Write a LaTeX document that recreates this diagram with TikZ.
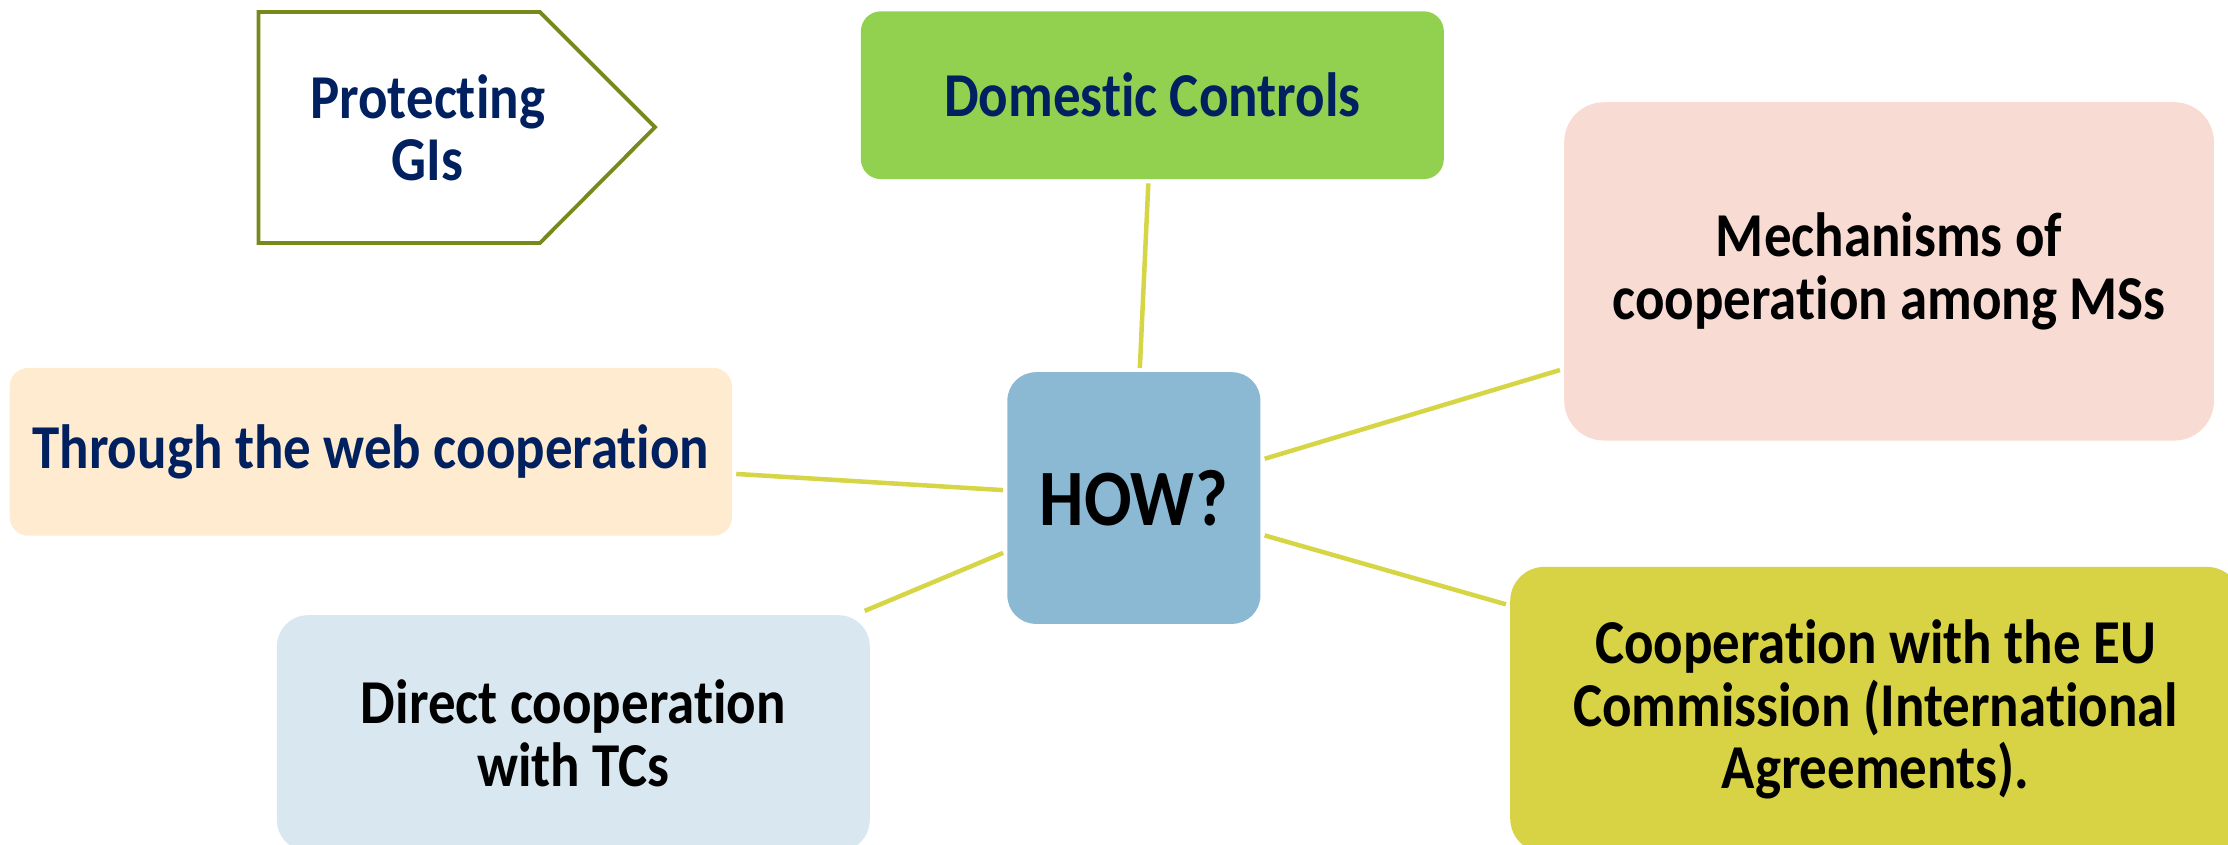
\documentclass[tikz,border=0pt]{standalone}
\usepackage{fontspec}
\setmainfont{Carlito}[FakeStretch=0.88,Ligatures={NoCommon,NoDiscretionary}]
\definecolor{navy}{HTML}{002060}
\definecolor{olive}{HTML}{77891A}
\definecolor{spoke}{HTML}{D6D545}
\definecolor{domgreen}{HTML}{92D050}
\definecolor{mechpink}{HTML}{F8DCD4}
\definecolor{webcream}{HTML}{FEEBD0}
\definecolor{howblue}{HTML}{8BB9D4}
\definecolor{dirblue}{HTML}{D8E7F0}
\definecolor{euyellow}{HTML}{D8D345}
\begin{document}
\begin{tikzpicture}[x=0.01cm,y=-0.01cm]
\tikzset{box/.style = {shape=rectangle,align=center,inner sep=0pt,outer sep=0.03cm,
  font=\fontsize{12.5}{12.5}\selectfont\bfseries}}
\tikzset{spokeline/.style = {draw=spoke,line width=0.9pt}}
\path[use as bounding box,clip] (0,0) rectangle (1568,594);
% arrow box in the corner
\draw[olive,line width=0.75pt,fill=white] (182,8.5) -- (380,8.5) -- (461,89.5) -- (380,171) -- (182,171) -- cycle;
\node[box,text=navy] (gis) at (301,90) {Protecting\\GIs};
% centre
\node[box,fill=howblue,rounded corners=0.2cm,minimum width=1.78cm,minimum height=1.77cm,
  font=\fontsize{16}{16}\selectfont\bfseries] (how) at (798,350.5) {HOW?};
% boxes on top and on the right
\node[box,fill=domgreen,text=navy,rounded corners=0.14cm,minimum width=4.1cm,minimum height=1.18cm] (dom) at (811,67) {Domestic Controls};
\node[box,fill=mechpink,rounded corners=0.28cm,minimum width=4.57cm,minimum height=2.38cm] (mech) at (1329.5,191) {Mechanisms of\\cooperation among MSs};
\node[box,fill=euyellow,rounded corners=0.24cm,minimum width=5.14cm,minimum height=2.01cm] (eu) at (1320,499.5) {Cooperation with the EU\\Commission (International\\Agreements).};
% boxes on the left
\node[box,fill=webcream,text=navy,rounded corners=0.13cm,minimum width=5.08cm,minimum height=1.18cm] (web) at (261,318) {Through the web cooperation};
\node[box,fill=dirblue,rounded corners=0.22cm,minimum width=4.17cm,minimum height=1.66cm] (dir) at (403.5,516) {Direct cooperation\\with TCs};
% spokes from the centre
\draw[spokeline] (how) to (dom);
\draw[spokeline] (how) to (mech);
\draw[spokeline] (how) to (eu);
\draw[spokeline] (how) to (web);
\draw[spokeline] (how) to (dir);
\end{tikzpicture}
\end{document}
